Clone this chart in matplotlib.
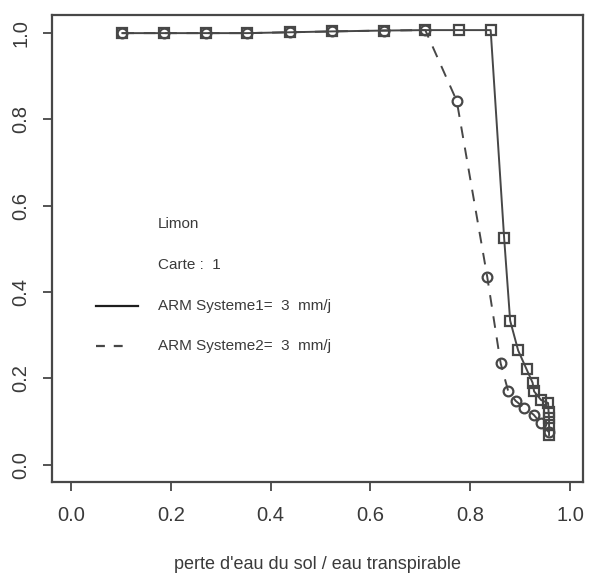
import matplotlib
matplotlib.use("Agg")
import matplotlib.pyplot as plt
from matplotlib.lines import Line2D

plt.rcParams['font.family'] = ['Liberation Sans', 'DejaVu Sans']

# Systeme 1 (solid line, square markers)
x_sys1 = [0.103, 0.187, 0.270, 0.353, 0.439, 0.524, 0.628, 0.710, 0.777, 0.841,
          0.868, 0.880, 0.896, 0.913, 0.925, 0.928, 0.942, 0.956, 0.957, 0.958, 0.958, 0.958]
y_sys1 = [1.000, 1.000, 1.000, 1.000, 1.002, 1.004, 1.006, 1.007, 1.007, 1.007,
          0.525, 0.334, 0.265, 0.221, 0.190, 0.170, 0.150, 0.143, 0.123, 0.108, 0.093, 0.069]

# Systeme 2 (dashed line, circle markers)
x_sys2 = [0.103, 0.187, 0.270, 0.353, 0.439, 0.524, 0.628, 0.710,
          0.773, 0.834, 0.861, 0.876, 0.891, 0.908, 0.927, 0.941, 0.958]
y_sys2 = [1.000, 1.000, 1.000, 1.000, 1.002, 1.004, 1.006, 1.007,
          0.843, 0.436, 0.235, 0.171, 0.148, 0.132, 0.116, 0.097, 0.075]

x_ticks = [0.0, 0.2, 0.4, 0.6, 0.8, 1.0]
y_ticks = [0.0, 0.2, 0.4, 0.6, 0.8, 1.0]
x_label = "perte d'eau du sol / eau transpirable"
legend_title = "Limon"
legend_subtitle = "Carte :  1"
legend_labels = ["ARM Systeme1=  3  mm/j", "ARM Systeme2=  3  mm/j"]

ink = '#474747'
txt = '#3a3a3a'

fig = plt.figure(figsize=(6.07, 5.73), dpi=100)
ax = fig.add_axes([52 / 607, 1 - 482 / 573, 531 / 607, 467 / 573])

ax.plot(x_sys1, y_sys1, color=ink, lw=1.4, ls='-', marker='s', ms=7.5,
        mfc='none', mec=ink, mew=1.6)
ax.plot(x_sys2, y_sys2, color=ink, lw=1.4, ls=(0, (6, 5)), marker='o', ms=7,
        mfc='none', mec=ink, mew=1.6)

ax.set_xlim(-0.038, 1.026)
ax.set_ylim(-0.040, 1.042)
ax.set_xticks(x_ticks)
ax.set_yticks(y_ticks)
ax.set_xticklabels([f"{v:.1f}" for v in x_ticks], fontsize=14.5, color=txt)
ax.set_yticklabels([f"{v:.1f}" for v in y_ticks], fontsize=14.5, color=txt,
                   rotation=90, va='center')
ax.tick_params(direction='out', length=6.5, width=1.3, color=ink)
ax.tick_params(axis='x', pad=11)
ax.tick_params(axis='y', pad=9)
for sp in ax.spines.values():
    sp.set_color(ink)
    sp.set_linewidth(1.6)

ax.set_xlabel(x_label, fontsize=13, color=txt)
ax.xaxis.set_label_coords(0.5, -0.177)
ax.xaxis.label.set_va('center')

# legend block
tx = 0.200
fs = 11
ax.text(tx, 0.553, legend_title, transform=ax.transAxes, fontsize=fs,
        color=txt, va='center')
ax.text(tx, 0.464, legend_subtitle, transform=ax.transAxes, fontsize=fs,
        color=txt, va='center')
ax.text(tx, 0.376, legend_labels[0], transform=ax.transAxes, fontsize=fs,
        color=txt, va='center')
ax.text(tx, 0.291, legend_labels[1], transform=ax.transAxes, fontsize=fs,
        color=txt, va='center')
ax.add_line(Line2D([0.083, 0.162], [0.376, 0.376], transform=ax.transAxes,
                   color='#1e1e1e', lw=1.6))
ax.add_line(Line2D([0.083, 0.147], [0.291, 0.291], transform=ax.transAxes,
                   color=ink, lw=1.6, ls=(0, (4, 4))))

fig.savefig("out.png", dpi=100, facecolor='white')
